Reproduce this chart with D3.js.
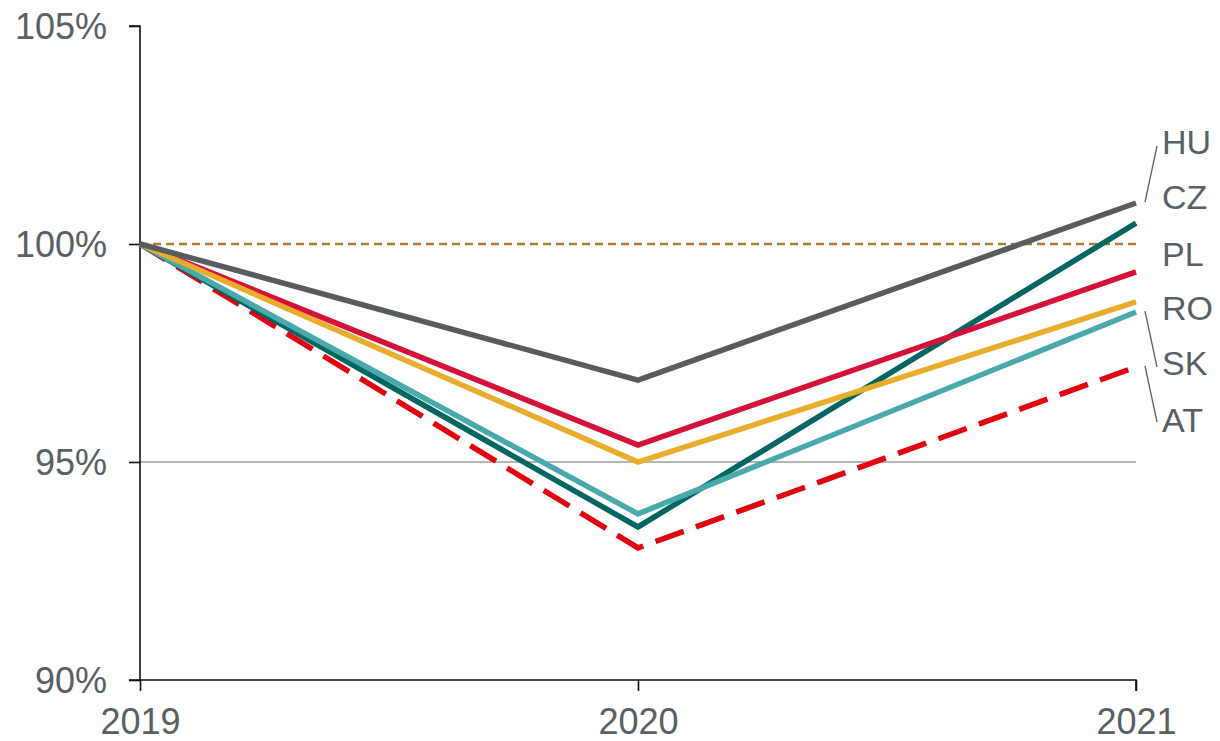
<!DOCTYPE html>
<html>
<head>
<meta charset="utf-8">
<script src="https://cdn.jsdelivr.net/npm/d3@7"></script>
<style>
  body { margin: 0; background: #fff; }
  text { font-family: Arial, "Liberation Sans", sans-serif; fill: #596064; }
</style>
</head>
<body>
<div id="chart"></div>
<script>
// data (index, 2019 = 100%)
const years = [2019, 2020, 2021];
const countries = ["HU", "CZ", "PL", "RO", "SK", "AT"];
const hu = [100, 96.88, 100.94];
const cz = [100, 93.51, 100.48];
const pl = [100, 95.39, 99.36];
const ro = [100, 95.0, 98.67];
const sk = [100, 93.81, 98.44];
const at = [100, 93.03, 97.18];
const yTicks = [90, 95, 100, 105];

const colors = { HU: "#575c60", CZ: "#00665f", PL: "#d5103a", RO: "#e9ad2c", SK: "#4aa9aa", AT: "#e3000f" };
const values = { HU: hu, CZ: cz, PL: pl, RO: ro, SK: sk, AT: at };
// draw order, last on top
const drawOrder = ["AT", "CZ", "SK", "PL", "RO", "HU"];

const width = 1220, height = 741;
const svg = d3.select("#chart").append("svg")
    .attr("width", width)
    .attr("height", height);

const x = d3.scalePoint().domain(years).range([140, 1136]);
const y = d3.scaleLinear().domain([90, 105]).range([680, 26]);

// 95% gridline
svg.append("line")
    .attr("x1", 140).attr("x2", 1136)
    .attr("y1", y(95)).attr("y2", y(95))
    .attr("stroke", "#6b6b6b").attr("stroke-width", 1.2);

// 100% reference line
svg.append("line")
    .attr("x1", 140).attr("x2", 1136)
    .attr("y1", y(100)).attr("y2", y(100))
    .attr("stroke", "#b07b35").attr("stroke-width", 2.5)
    .attr("stroke-dasharray", "8,5");

// axes
const yAxis = svg.append("g")
    .attr("transform", "translate(140,0)")
    .call(d3.axisLeft(y).tickValues(yTicks).tickSize(11).tickFormat(d => d + "%"));
yAxis.select(".domain").attr("d", `M-11,${y(105)}H0V${y(90)}`);

const xAxis = svg.append("g")
    .attr("transform", `translate(0,${y(90)})`)
    .call(d3.axisBottom(x).tickSize(11).tickSizeOuter(0));
xAxis.select(".domain").attr("d", `M129,0H1136V11`);

svg.selectAll(".domain, .tick line").attr("stroke", "#111").attr("stroke-width", 1.6);
yAxis.selectAll(".tick text")
    .attr("x", -33).attr("dy", "0.35em")
    .style("font-size", "36px").attr("fill", "#596064");
xAxis.selectAll(".tick text")
    .attr("y", 28).attr("dy", "0.71em")
    .style("font-size", "36px").attr("fill", "#596064");

// series
const line = d3.line()
    .x((d, i) => x(years[i]))
    .y(d => y(d));

drawOrder.forEach(c => {
    svg.append("path")
        .datum(values[c])
        .attr("d", line)
        .attr("fill", "none")
        .attr("stroke", colors[c])
        .attr("stroke-width", 5.5)
        .attr("stroke-linejoin", "miter")
        .attr("stroke-dasharray", c === "AT" ? "30,13" : null);
});

// labels at right
const labelY = { HU: 142, CZ: 197, PL: 254, RO: 308, SK: 363, AT: 420 };
countries.forEach(c => {
    svg.append("text")
        .attr("x", 1162)
        .attr("y", labelY[c])
        .attr("dy", "0.35em")
        .style("font-size", "34px")
        .text(c);
});

// leader lines
const leaders = [
    { from: hu[2], to: labelY.HU + 4 },
    { from: sk[2], to: labelY.SK + 4 },
    { from: at[2], to: labelY.AT + 2 }
];
leaders.forEach(l => {
    svg.append("line")
        .attr("x1", 1145).attr("y1", y(l.from) - 1)
        .attr("x2", 1157).attr("y2", l.to)
        .attr("stroke", "#596064").attr("stroke-width", 1.3);
});
</script>
</body>
</html>
